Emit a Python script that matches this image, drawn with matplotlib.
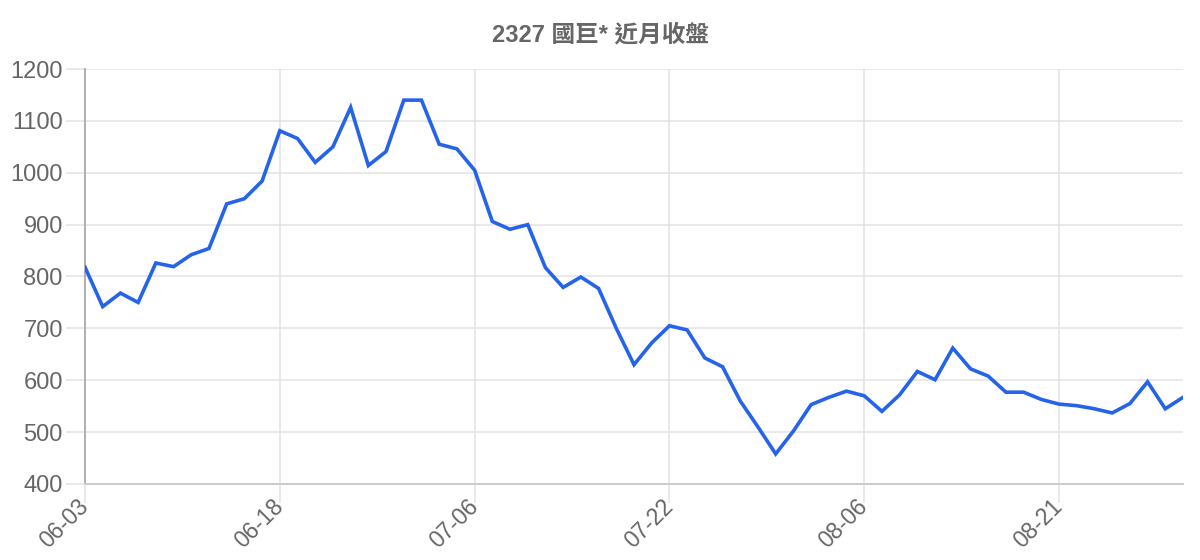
import matplotlib
matplotlib.use("Agg")
import matplotlib.pyplot as plt

plt.rcParams['font.family'] = ['Liberation Sans', 'Noto Sans CJK TC', 'DejaVu Sans']

# data
title = '2327 國巨* 近月收盤'
closes = [818, 742, 768, 750, 826, 819, 842, 854, 940, 950,
          984, 1081, 1066, 1020, 1050, 1126, 1014, 1041, 1140, 1140,
          1055, 1046, 1005, 906, 891, 900, 817, 779, 799, 777,
          700, 630, 672, 705, 697, 643, 626, 560, 510, 458,
          502, 553, 567, 579, 570, 540, 572, 617, 601, 662,
          622, 608, 577, 577, 563, 554, 551, 545, 537, 555,
          597, 545, 567]
tick_labels = ['06-03', '06-18', '07-06', '07-22', '08-06', '08-21']
tick_step = 11

grid_col = '#e3e3e3'
text_col = '#666666'

fig = plt.figure(figsize=(12, 5.6), dpi=100)
ax = fig.add_axes([85 / 1200, 76 / 560, 1098 / 1200, 415 / 560])

ax.plot(range(len(closes)), closes, color='#2563eb', linewidth=2.6,
        solid_joinstyle='miter', zorder=3)

ax.set_xlim(0, len(closes) - 1)
ax.set_ylim(400, 1200)
ax.set_yticks(range(400, 1201, 100))
ax.set_xticks(range(0, len(closes), tick_step))
ax.set_xticklabels(tick_labels, rotation=45, ha='right', va='center',
                   rotation_mode='anchor')

ax.grid(True, color=grid_col, linewidth=1.1)
ax.set_axisbelow(True)
ax.tick_params(axis='both', length=14, width=1.1, color=grid_col,
               labelcolor=text_col, labelsize=17, pad=2)
ax.tick_params(axis='x', labelsize=16.5, pad=0)

for s in ['top', 'right']:
    ax.spines[s].set_visible(False)
ax.spines['left'].set_color('#b0b0b0')
ax.spines['left'].set_linewidth(1.4)
ax.spines['bottom'].set_color('#cccccc')
ax.spines['bottom'].set_linewidth(1.4)

fig.text(0.5, 1 - 35 / 560, title, ha='center', va='center',
         fontsize=17, fontweight='bold', color=text_col)

fig.savefig('out.png', dpi=100)
